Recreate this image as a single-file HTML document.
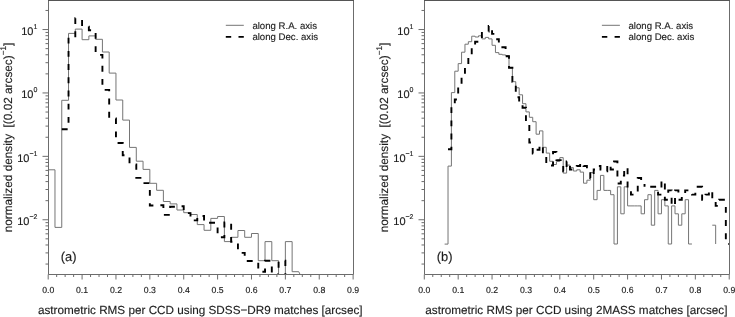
<!DOCTYPE html><html><head><meta charset="utf-8"><title>astrometric RMS</title>
<style>html,body{margin:0;padding:0;background:#fff}svg{display:block;will-change:transform}text{text-rendering:geometricPrecision;font-family:"Liberation Sans",sans-serif;fill:#1c1c1c;stroke:#1c1c1c;stroke-width:0.14px}</style></head><body>
<svg width="735" height="317" viewBox="0 0 735 317">
<rect width="735" height="317" fill="#fff"/>
<g id="panel0">
<clipPath id="cp0"><rect x="48.0" y="0.5" width="306.0" height="274.6"/></clipPath>
<g clip-path="url(#cp0)" fill="none">
<path d="M48.20 274.50 L48.20 169.80 L54.98 169.80 L54.98 227.40 L61.75 227.40 L61.75 100.30 L68.53 100.30 L68.53 33.40 L75.30 33.40 L75.30 29.10 L82.08 29.10 L82.08 39.70 L88.86 39.70 L88.86 35.90 L95.63 35.90 L95.63 39.30 L102.41 39.30 L102.41 52.00 L109.18 52.00 L109.18 73.10 L115.96 73.10 L115.96 100.00 L122.74 100.00 L122.74 120.10 L129.51 120.10 L129.51 147.40 L136.29 147.40 L136.29 161.20 L143.06 161.20 L143.06 169.40 L149.84 169.40 L149.84 183.30 L156.62 183.30 L156.62 190.30 L163.39 190.30 L163.39 201.50 L170.17 201.50 L170.17 203.90 L176.94 203.90 L176.94 210.00 L183.72 210.00 L183.72 212.70 L190.50 212.70 L190.50 214.50 L197.27 214.50 L197.27 224.60 L204.05 224.60 L204.05 230.30 L210.82 230.30 L210.82 218.40 L217.60 218.40 L217.60 216.50 L224.38 216.50 L224.38 241.60 L231.15 241.60 L231.15 237.30 L237.93 237.30 L237.93 230.50 L244.70 230.50 L244.70 237.30 L251.48 237.30 L251.48 233.50 L258.26 233.50 L258.26 260.70 L265.03 260.70 L265.03 241.60 L271.81 241.60 L271.81 260.70 L278.58 260.70 L278.58 274.50 L285.36 274.50 L285.36 241.60 L292.14 241.60 L292.14 271.70 L298.74 271.70 L300.10 274.50" stroke="#757575" stroke-width="1"/>
<path d="M61.75 129.20 L68.53 129.20 L68.53 37.30 L75.30 37.30 L75.30 18.20 L82.08 18.20" stroke="#000" stroke-width="1.9" stroke-dasharray="5.9 7.3" stroke-dashoffset="0.00"/>
<path d="M82.08 18.20 L82.08 26.60 L88.86 26.60 L88.86 30.20 L95.63 30.20 L95.63 54.90 L102.41 54.90 L102.41 89.90 L109.18 89.90 L109.18 118.50 L115.96 118.50 L115.96 143.00 L122.74 143.00 L122.74 155.20 L129.51 155.20 L129.51 164.50 L136.29 164.50 L136.29 177.90 L143.06 177.90 L143.06 183.10 L149.84 183.10 L149.84 205.50 L156.62 205.50 L156.62 205.20 L163.39 205.20 L163.39 214.90 L170.17 214.90 L170.17 206.80 L176.94 206.80 L176.94 206.20 L183.72 206.20 L183.72 213.10 L190.50 213.10 L190.50 220.40 L197.27 220.40 L197.27 216.00 L204.05 216.00 L204.05 222.70 L210.82 222.70 L210.82 222.70 L217.60 222.70 L217.60 237.30 L224.38 237.30 L224.38 222.50 L231.15 222.50 L231.15 241.70 L237.93 241.70 L237.93 252.90 L244.70 252.90 L244.70 261.00 L251.48 261.00 L251.48 261.00 L258.26 261.00 L258.26 271.80 L265.03 271.80 L265.03 260.70 L271.81 260.70 L271.81 274.50 L278.58 274.50" stroke="#000" stroke-width="1.9" stroke-dasharray="5.9 7.3" stroke-dashoffset="11.30"/>
<path d="M278.58 274.50 L278.58 260.70 L285.36 260.70 L285.36 274.50" stroke="#000" stroke-width="1.9" stroke-dasharray="5.9 7.3" stroke-dashoffset="6.40"/>
</g>
<g stroke="#6c6c6c" stroke-width="1" fill="none">
<path d="M48.5 0.5 V274.5 H353.5 V0.5"/>
<path d="M48.0 0.5 H354.0" stroke="#555"/>
<path d="M48.2 274.5 v5 M56.67 274.5 v2.5 M65.14 274.5 v2.5 M73.61 274.5 v2.5 M82.08 274.5 v5 M90.55 274.5 v2.5 M99.02 274.5 v2.5 M107.49 274.5 v2.5 M115.96 274.5 v5 M124.43 274.5 v2.5 M132.9 274.5 v2.5 M141.37 274.5 v2.5 M149.84 274.5 v5 M158.31 274.5 v2.5 M166.78 274.5 v2.5 M175.25 274.5 v2.5 M183.72 274.5 v5 M192.19 274.5 v2.5 M200.66 274.5 v2.5 M209.13 274.5 v2.5 M217.6 274.5 v5 M226.07 274.5 v2.5 M234.54 274.5 v2.5 M243.01 274.5 v2.5 M251.48 274.5 v5 M259.95 274.5 v2.5 M268.42 274.5 v2.5 M276.89 274.5 v2.5 M285.36 274.5 v5 M293.83 274.5 v2.5 M302.3 274.5 v2.5 M310.77 274.5 v2.5 M319.24 274.5 v5 M327.71 274.5 v2.5 M336.18 274.5 v2.5 M344.65 274.5 v2.5 M353.12 274.5 v5 "/>
<path d="M48.5 264.06 h-3 M48.5 252.9 h-3 M48.5 244.98 h-3 M48.5 238.84 h-3 M48.5 233.82 h-3 M48.5 229.57 h-3 M48.5 225.89 h-3 M48.5 222.65 h-3 M48.5 219.75 h-6 M48.5 200.66 h-3 M48.5 189.5 h-3 M48.5 181.58 h-3 M48.5 175.44 h-3 M48.5 170.42 h-3 M48.5 166.17 h-3 M48.5 162.49 h-3 M48.5 159.25 h-3 M48.5 156.35 h-6 M48.5 137.26 h-3 M48.5 126.1 h-3 M48.5 118.18 h-3 M48.5 112.04 h-3 M48.5 107.02 h-3 M48.5 102.77 h-3 M48.5 99.09 h-3 M48.5 95.85 h-3 M48.5 92.95 h-6 M48.5 73.86 h-3 M48.5 62.7 h-3 M48.5 54.78 h-3 M48.5 48.64 h-3 M48.5 43.62 h-3 M48.5 39.37 h-3 M48.5 35.69 h-3 M48.5 32.45 h-3 M48.5 29.55 h-6 M48.5 10.46 h-3 "/>
</g>
<text x="48.20" y="293.2" font-size="8.7" text-anchor="middle">0.0</text>
<text x="82.08" y="293.2" font-size="8.7" text-anchor="middle">0.1</text>
<text x="115.96" y="293.2" font-size="8.7" text-anchor="middle">0.2</text>
<text x="149.84" y="293.2" font-size="8.7" text-anchor="middle">0.3</text>
<text x="183.72" y="293.2" font-size="8.7" text-anchor="middle">0.4</text>
<text x="217.60" y="293.2" font-size="8.7" text-anchor="middle">0.5</text>
<text x="251.48" y="293.2" font-size="8.7" text-anchor="middle">0.6</text>
<text x="285.36" y="293.2" font-size="8.7" text-anchor="middle">0.7</text>
<text x="319.24" y="293.2" font-size="8.7" text-anchor="middle">0.8</text>
<text x="353.12" y="293.2" font-size="8.7" text-anchor="middle">0.9</text>
<text x="37.40" y="34.85" font-size="11" text-anchor="end">10<tspan font-size="7" dy="-6">1</tspan></text>
<text x="37.40" y="98.25" font-size="11" text-anchor="end">10<tspan font-size="7" dy="-6">0</tspan></text>
<text x="37.40" y="161.65" font-size="11" text-anchor="end">10<tspan font-size="7" dy="-6">−1</tspan></text>
<text x="37.40" y="225.05" font-size="11" text-anchor="end">10<tspan font-size="7" dy="-6">−2</tspan></text>
<text x="200.26" y="313.7" font-size="11.73" text-anchor="middle">astrometric RMS per CCD using SDSS−DR9 matches [arcsec]</text>
<text transform="translate(11.80 137.5) rotate(-90)" font-size="11.8" text-anchor="middle" xml:space="preserve">normalized density  [(0.02 arcsec)<tspan font-size="8.2" dy="-6.3">−1</tspan><tspan dy="6.3">]</tspan></text>
<path d="M225.80 25.3 h18" stroke="#757575" stroke-width="1" fill="none"/>
<path d="M225.80 36.9 h18" stroke="#000" stroke-width="1.9" stroke-dasharray="5.4 7.3" fill="none"/>
<text x="252.40" y="28.5" font-size="9.62">along R.A. axis</text>
<text x="252.40" y="40.3" font-size="9.62">along Dec. axis</text>
<text x="76.50" y="261.4" font-size="12.9" text-anchor="end">(a)</text>
</g>
<g id="panel1">
<clipPath id="cp1"><rect x="424.0" y="0.5" width="306.0" height="274.6"/></clipPath>
<g clip-path="url(#cp1)" fill="none">
<path d="M444.63 244.10 L448.02 244.10 L448.02 166.10 L451.40 166.10 L451.40 92.60 L454.79 92.60 L454.79 71.20 L458.18 71.20 L458.18 63.60 L461.57 63.60 L461.57 52.20 L464.96 52.20 L464.96 44.20 L468.34 44.20 L468.34 41.70 L471.73 41.70 L471.73 36.20 L475.12 36.20 L475.12 37.00 L478.51 37.00 L478.51 35.80 L481.90 35.80 L481.90 38.90 L485.28 38.90 L485.28 37.40 L488.67 37.40 L488.67 38.90 L492.06 38.90 L492.06 45.30 L495.45 45.30 L495.45 52.60 L498.84 52.60 L498.84 54.30 L502.22 54.30 L502.22 54.90 L505.61 54.90 L505.61 55.60 L509.00 55.60 L509.00 67.80 L512.39 67.80 L512.39 81.70 L515.78 81.70 L515.78 87.80 L519.16 87.80 L519.16 94.80 L522.55 94.80 L522.55 103.70 L525.94 103.70 L525.94 111.90 L529.33 111.90 L529.33 117.30 L532.72 117.30 L532.72 121.70 L536.10 121.70 L536.10 134.20 L539.49 134.20 L539.49 130.90 L542.88 130.90 L542.88 147.30 L546.27 147.30 L546.27 153.10 L549.66 153.10 L549.66 161.30 L553.04 161.30 L553.04 164.50 L556.43 164.50 L556.43 161.50 L559.82 161.50 L559.82 157.60 L563.21 157.60 L563.21 173.10 L566.60 173.10 L566.60 165.10 L569.98 165.10 L569.98 167.60 L573.37 167.60 L573.37 171.00 L576.76 171.00 L576.76 169.80 L580.15 169.80 L580.15 172.10 L583.54 172.10 L583.54 183.20 L586.92 183.20 L586.92 180.20 L590.31 180.20 L590.31 172.60 L593.70 172.60 L593.70 199.70 L597.09 199.70 L597.09 190.40 L600.48 190.40 L600.48 175.40 L603.86 175.40 L603.86 190.40 L607.25 190.40 L607.25 190.40 L610.64 190.40 L610.64 194.70 L614.03 194.70 L614.03 244.00 L617.42 244.00 L617.42 186.80 L620.80 186.80 L620.80 213.80 L624.19 213.80 L624.19 186.80 L627.58 186.80 L627.58 205.90 L630.97 205.90 L630.97 205.90 L634.36 205.90 L634.36 205.90 L637.74 205.90 L637.74 205.90 L641.13 205.90 L641.13 213.80 L644.52 213.80 L644.52 199.70 L647.91 199.70 L647.91 194.70 L651.30 194.70 L651.30 225.20 L654.68 225.20 L654.68 190.40 L658.07 190.40 L658.07 213.80 L661.46 213.80 L661.46 199.70 L664.85 199.70 L664.85 205.90 L668.24 205.90 L668.24 244.00 L671.62 244.00 L671.62 205.90 L675.01 205.90 L675.01 213.80 L678.40 213.80 L678.40 225.20 L681.79 225.20 L681.79 213.80 L685.18 213.80 L685.18 199.70 L688.56 199.70 L688.56 244.00 L691.95 244.00" stroke="#757575" stroke-width="1"/>
<path d="M712.28 225.20 L715.67 225.20 L715.67 244.00" stroke="#757575" stroke-width="1"/>
<path d="M448.02 149.30 L451.40 149.30 L451.40 104.00 L454.79 104.00 L454.79 99.50 L458.18 99.50 L458.18 86.00 L461.57 86.00 L461.57 76.00 L464.96 76.00 L464.96 66.00 L468.34 66.00 L468.34 56.00 L471.73 56.00 L471.73 46.50 L475.12 46.50 L475.12 41.70 L478.51 41.70 L478.51 40.00 L481.90 40.00 L481.90 31.50 L485.28 31.50 L485.28 31.50 L488.67 31.50 L488.67 26.00 L492.06 26.00 L492.06 33.90 L495.45 33.90 L495.45 39.30 L498.84 39.30 L498.84 47.30 L502.22 47.30 L502.22 47.30 L505.61 47.30 L505.61 56.20 L509.00 56.20 L509.00 67.80 L512.39 67.80 L512.39 81.70 L515.78 81.70 L515.78 97.20 L519.16 97.20 L519.16 103.50 L522.55 103.50 L522.55 107.70 L525.94 107.70 L525.94 123.00 L529.33 123.00 L529.33 142.50 L532.72 142.50 L532.72 153.50 L536.10 153.50 L536.10 149.70 L539.49 149.70 L539.49 145.00 L542.88 145.00 L542.88 155.00 L546.27 155.00 L546.27 165.50 L549.66 165.50 L549.66 165.50 L553.04 165.50 L553.04 152.00 L556.43 152.00 L556.43 160.17 L559.82 160.17 L559.82 160.17 L563.21 160.17 L563.21 171.34 L566.60 171.34 L566.60 161.51 L569.98 161.51 L569.98 169.44 L573.37 169.44 L573.37 169.44 L576.76 169.44 L576.76 165.99 L580.15 165.99 L580.15 162.93 L583.54 162.93 L583.54 165.99 L586.92 165.99 L586.92 171.34 L590.31 171.34 L590.31 177.98 L593.70 177.98 L593.70 169.44 L597.09 169.44 L597.09 165.99 L600.48 165.99 L600.48 169.44 L603.86 169.44 L603.86 171.34 L607.25 171.34 L607.25 164.42 L610.64 164.42 L610.64 169.44 L614.03 169.44 L614.03 161.51 L617.42 161.51 L617.42 183.50 L620.80 183.50 L620.80 175.58 L624.19 175.58 L624.19 167.66 L627.58 167.66 L627.58 190.42 L630.97 190.42 L630.97 194.67 L634.36 194.67 L634.36 194.67 L637.74 194.67 L637.74 177.98 L641.13 177.98 L641.13 183.50 L644.52 183.50 L644.52 186.74" stroke="#000" stroke-width="1.9" stroke-dasharray="5.9 7.3" stroke-dashoffset="0.00"/>
<path d="M644.52 186.74 L647.91 186.74 L647.91 186.74 L651.30 186.74 L651.30 186.74 L654.68 186.74 L654.68 186.74 L658.07 186.74 L658.07 194.67 L661.46 194.67 L661.46 180.60 L664.85 180.60 L664.85 199.69 L668.24 199.69 L668.24 190.42 L671.62 190.42 L671.62 205.83 L675.01 205.83 L675.01 190.42 L678.40 190.42 L678.40 199.69 L681.79 199.69 L681.79 194.67 L685.18 194.67 L685.18 190.42 L688.56 190.42 L688.56 190.42 L691.95 190.42 L691.95 194.67 L695.34 194.67 L695.34 186.74 L698.73 186.74 L698.73 186.74 L702.12 186.74 L702.12 199.69 L705.50 199.69 L705.50 194.67 L708.89 194.67 L708.89 190.42 L712.28 190.42 L712.28 199.69 L715.67 199.69 L715.67 205.83 L719.06 205.83 L719.06 199.69 L722.44 199.69 L722.44 199.69 L725.83 199.69" stroke="#000" stroke-width="1.9" stroke-dasharray="5.9 7.3" stroke-dashoffset="7.50"/>
<path d="M725.83 199.69 L725.83 244.00 L729.22 244.00" stroke="#000" stroke-width="1.9" stroke-dasharray="5.9 7.3" stroke-dashoffset="6.00"/>
</g>
<g stroke="#6c6c6c" stroke-width="1" fill="none">
<path d="M424.5 0.5 V274.5 H729.5 V0.5"/>
<path d="M424.0 0.5 H730.0" stroke="#555"/>
<path d="M424.3 274.5 v5 M432.77 274.5 v2.5 M441.24 274.5 v2.5 M449.71 274.5 v2.5 M458.18 274.5 v5 M466.65 274.5 v2.5 M475.12 274.5 v2.5 M483.59 274.5 v2.5 M492.06 274.5 v5 M500.53 274.5 v2.5 M509.0 274.5 v2.5 M517.47 274.5 v2.5 M525.94 274.5 v5 M534.41 274.5 v2.5 M542.88 274.5 v2.5 M551.35 274.5 v2.5 M559.82 274.5 v5 M568.29 274.5 v2.5 M576.76 274.5 v2.5 M585.23 274.5 v2.5 M593.7 274.5 v5 M602.17 274.5 v2.5 M610.64 274.5 v2.5 M619.11 274.5 v2.5 M627.58 274.5 v5 M636.05 274.5 v2.5 M644.52 274.5 v2.5 M652.99 274.5 v2.5 M661.46 274.5 v5 M669.93 274.5 v2.5 M678.4 274.5 v2.5 M686.87 274.5 v2.5 M695.34 274.5 v5 M703.81 274.5 v2.5 M712.28 274.5 v2.5 M720.75 274.5 v2.5 M729.22 274.5 v5 "/>
<path d="M424.5 264.06 h-3 M424.5 252.9 h-3 M424.5 244.98 h-3 M424.5 238.84 h-3 M424.5 233.82 h-3 M424.5 229.57 h-3 M424.5 225.89 h-3 M424.5 222.65 h-3 M424.5 219.75 h-6 M424.5 200.66 h-3 M424.5 189.5 h-3 M424.5 181.58 h-3 M424.5 175.44 h-3 M424.5 170.42 h-3 M424.5 166.17 h-3 M424.5 162.49 h-3 M424.5 159.25 h-3 M424.5 156.35 h-6 M424.5 137.26 h-3 M424.5 126.1 h-3 M424.5 118.18 h-3 M424.5 112.04 h-3 M424.5 107.02 h-3 M424.5 102.77 h-3 M424.5 99.09 h-3 M424.5 95.85 h-3 M424.5 92.95 h-6 M424.5 73.86 h-3 M424.5 62.7 h-3 M424.5 54.78 h-3 M424.5 48.64 h-3 M424.5 43.62 h-3 M424.5 39.37 h-3 M424.5 35.69 h-3 M424.5 32.45 h-3 M424.5 29.55 h-6 M424.5 10.46 h-3 "/>
</g>
<text x="424.30" y="293.2" font-size="8.7" text-anchor="middle">0.0</text>
<text x="458.18" y="293.2" font-size="8.7" text-anchor="middle">0.1</text>
<text x="492.06" y="293.2" font-size="8.7" text-anchor="middle">0.2</text>
<text x="525.94" y="293.2" font-size="8.7" text-anchor="middle">0.3</text>
<text x="559.82" y="293.2" font-size="8.7" text-anchor="middle">0.4</text>
<text x="593.70" y="293.2" font-size="8.7" text-anchor="middle">0.5</text>
<text x="627.58" y="293.2" font-size="8.7" text-anchor="middle">0.6</text>
<text x="661.46" y="293.2" font-size="8.7" text-anchor="middle">0.7</text>
<text x="695.34" y="293.2" font-size="8.7" text-anchor="middle">0.8</text>
<text x="729.22" y="293.2" font-size="8.7" text-anchor="middle">0.9</text>
<text x="413.50" y="34.85" font-size="11" text-anchor="end">10<tspan font-size="7" dy="-6">1</tspan></text>
<text x="413.50" y="98.25" font-size="11" text-anchor="end">10<tspan font-size="7" dy="-6">0</tspan></text>
<text x="413.50" y="161.65" font-size="11" text-anchor="end">10<tspan font-size="7" dy="-6">−1</tspan></text>
<text x="413.50" y="225.05" font-size="11" text-anchor="end">10<tspan font-size="7" dy="-6">−2</tspan></text>
<text x="576.36" y="313.7" font-size="11.73" text-anchor="middle">astrometric RMS per CCD using 2MASS matches [arcsec]</text>
<text transform="translate(387.90 137.5) rotate(-90)" font-size="11.8" text-anchor="middle" xml:space="preserve">normalized density  [(0.02 arcsec)<tspan font-size="8.2" dy="-6.3">−1</tspan><tspan dy="6.3">]</tspan></text>
<path d="M601.90 25.3 h18" stroke="#757575" stroke-width="1" fill="none"/>
<path d="M601.90 36.9 h18" stroke="#000" stroke-width="1.9" stroke-dasharray="5.4 7.3" fill="none"/>
<text x="628.50" y="28.5" font-size="9.62">along R.A. axis</text>
<text x="628.50" y="40.3" font-size="9.62">along Dec. axis</text>
<text x="452.60" y="261.4" font-size="12.9" text-anchor="end">(b)</text>
</g>
</svg></body></html>
